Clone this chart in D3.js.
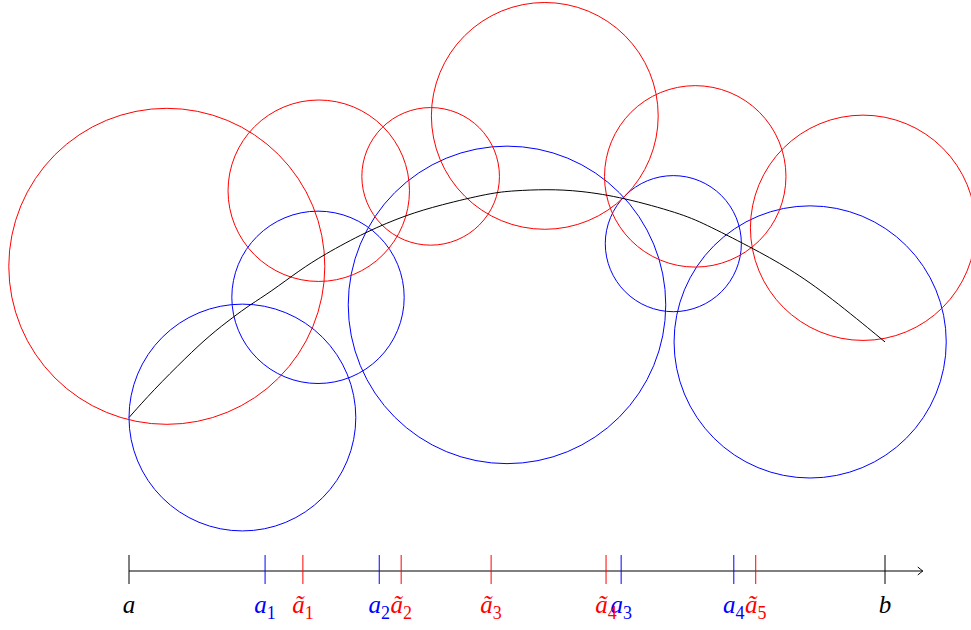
<!DOCTYPE html>
<html>
<head>
<meta charset="utf-8">
<script src="https://cdn.jsdelivr.net/npm/d3@7"></script>
<style>
  body{margin:0;background:#fff;}
  svg{display:block;}
</style>
</head>
<body>
<div id="chartdiv"></div>
<script>
    var svgW=971,svgH=630;
    var unitpx=75.6;                 // px per unit
    var axisY=571,originX=129;

    // circles (units): centre x, centre y, radius
    var blueCx=[1.50,2.50,5.00,7.20,9.01];
    var blueCy=[2.03,3.62,3.52,4.33,3.03];
    var blueR =[1.50,1.14,2.10,0.90,1.80];

    var redCx=[0.50,2.51,3.99,5.50,7.49,9.71];
    var redCy=[4.03,5.03,5.22,6.02,5.22,4.54];
    var redR =[2.09,1.20,0.91,1.50,1.20,1.49];

    // the curve from a to b
    var curveX=[0.00,0.32,0.76,1.07,1.38,1.60,1.87,2.26,2.57,3.14,3.67,4.11,4.78,5.08,5.53,5.97,6.54,7.29,7.60,8.21,8.74,9.27,10.00];
    var curveY=[2.03,2.39,2.83,3.12,3.36,3.52,3.69,3.98,4.18,4.49,4.71,4.84,5.00,5.03,5.05,5.03,4.94,4.73,4.60,4.29,4.00,3.63,3.03];

    // ticks on the axis
    var endTicks=[0,10],endNames=["a","b"];
    var blueTicks=[1.80,3.31,6.51,8.00],blueSubs=["1","2","3","4"];
    var redTicks=[2.30,3.60,4.79,6.31,8.29],redSubs=["1","2","3","4","5"];
    var axisEnd=10.5;

    var x=d3.scaleLinear().domain([0,10]).range([originX,originX+10*unitpx]);
    var y=d3.scaleLinear().domain([0,10]).range([axisY,axisY-10*unitpx]);
    function rpx(r){return x(r)-x(0);}

    var svg=d3.select("#chartdiv")
        .append("svg")
        .attr("width",svgW)
        .attr("height",svgH);

    function drawcircles(cx,cy,r,color){
        svg.append("g").selectAll("circle")
            .data(d3.range(cx.length))
            .enter()
            .append("circle")
            .attr("cx",function(i){return x(cx[i]);})
            .attr("cy",function(i){return y(cy[i]);})
            .attr("r",function(i){return rpx(r[i]);})
            .attr("fill","none")
            .attr("stroke",color)
            .attr("stroke-width",1);
    }
    drawcircles(blueCx,blueCy,blueR,"#0000ff");
    drawcircles(redCx,redCy,redR,"#ff0000");

    var line=d3.line()
        .x(function(i){return x(curveX[i]);})
        .y(function(i){return y(curveY[i]);})
        .curve(d3.curveBasis);
    svg.append("path")
        .attr("d",line(d3.range(curveX.length)))
        .attr("fill","none")
        .attr("stroke","#000")
        .attr("stroke-width",1);

    //===========axis======================
    var axisg=svg.append("g");
    axisg.append("line")
        .attr("x1",x(0)).attr("x2",x(axisEnd))
        .attr("y1",y(0)).attr("y2",y(0))
        .attr("stroke","#000").attr("stroke-width",1);
    var ax=x(axisEnd),ay=y(0);
    axisg.append("path")
        .attr("d","M"+(ax-5)+","+(ay-4)+" Q"+(ax-1.5)+","+(ay-1)+" "+ax+","+ay+" Q"+(ax-1.5)+","+(ay+1)+" "+(ax-5)+","+(ay+4))
        .attr("fill","none").attr("stroke","#000").attr("stroke-width",1);

    function drawticks(vals,color,base,subs){
        var g=axisg.append("g").selectAll("g")
            .data(d3.range(vals.length))
            .enter().append("g");
        g.append("line")
            .attr("x1",function(i){return x(vals[i]);})
            .attr("x2",function(i){return x(vals[i]);})
            .attr("y1",y(0)-16).attr("y2",y(0)+13)
            .attr("stroke",color).attr("stroke-width",1);
        var t=g.append("text")
            .attr("x",function(i){return x(vals[i]);})
            .attr("y",y(0)+42)
            .attr("text-anchor","middle")
            .attr("fill",color)
            .attr("font-family","Liberation Serif, DejaVu Serif, serif")
            .attr("font-size",25);
        t.append("tspan")
            .attr("font-style","italic")
            .text(function(i){return typeof base=="string"?base:base[i];});
        if(subs){
            t.append("tspan")
                .attr("dy",6)
                .attr("font-size",18)
                .text(function(i){return subs[i];});
        }
    }
    drawticks(endTicks,"#000",endNames,null);
    drawticks(blueTicks,"#0000ff","a",blueSubs);
    drawticks(redTicks,"#ff0000","ã",redSubs);
</script>
</body>
</html>
